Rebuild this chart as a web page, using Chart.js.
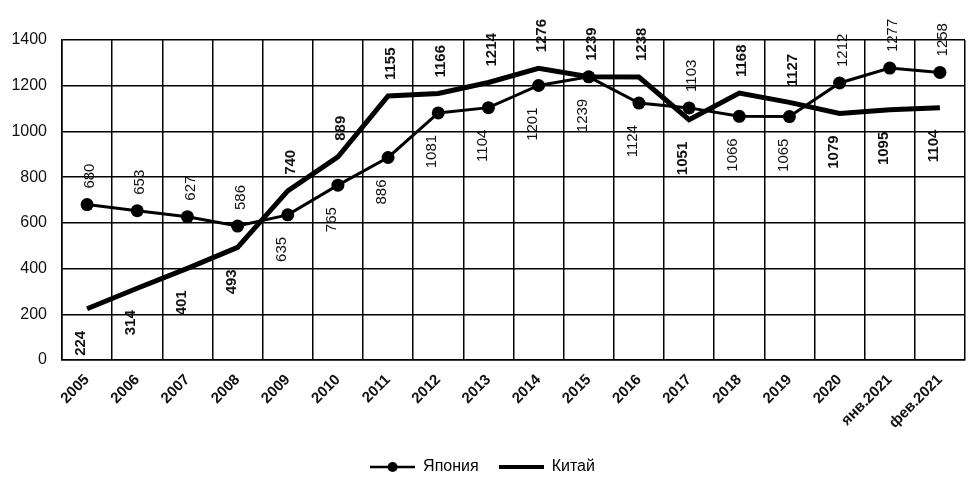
<!DOCTYPE html>
<html>
<head>
<meta charset="utf-8">
<script src="https://cdn.jsdelivr.net/npm/chart.js@4.4.1/dist/chart.umd.min.js"></script>
<style>
  html, body { margin: 0; padding: 0; background: #fff; }
  #wrap { width: 972px; height: 477px; position: relative; }
</style>
</head>
<body>
<div id="wrap"><canvas id="mainChart"></canvas></div>
<script>
// Data
const categories = ["2005", "2006", "2007", "2008", "2009", "2010", "2011", "2012", "2013",
  "2014", "2015", "2016", "2017", "2018", "2019", "2020", "янв.2021", "фев.2021"];
const japanValues = [680, 653, 627, 586, 635, 765, 886, 1081, 1104, 1201, 1239, 1124, 1103, 1066, 1065, 1212, 1277, 1258];
const chinaValues = [224, 314, 401, 493, 740, 889, 1155, 1166, 1214, 1276, 1239, 1238, 1051, 1168, 1127, 1079, 1095, 1104];
const yTicks = [0, 200, 400, 600, 800, 1000, 1200, 1400];

// where each value label sits: 1 = above the point, -1 = below
const japanLabelSide = [1, 1, 1, 1, -1, -1, -1, -1, -1, -1, -1, -1, 1, -1, -1, 1, 1, 1];
const chinaLabelSide = [-1, -1, -1, -1, 1, 1, 1, 1, 1, 1, 1, 1, -1, 1, 1, -1, -1, -1];

const FONT = "'Liberation Sans', Arial, sans-serif";

// legend marker images (line with dot, thick line)
function makeMarker(withDot, lw) {
  const c = document.createElement("canvas");
  c.width = 45; c.height = 14;
  const g = c.getContext("2d");
  g.strokeStyle = "#000";
  g.lineWidth = lw;
  g.beginPath(); g.moveTo(0, 7); g.lineTo(45, 7); g.stroke();
  if (withDot) {
    g.fillStyle = "#000";
    g.beginPath(); g.arc(22.5, 7, 5, 0, Math.PI * 2); g.fill();
  }
  return c;
}
const japanMarker = makeMarker(true, 2.5);
const chinaMarker = makeMarker(false, 4);

// vertical value labels drawn from the points the library placed
const valueLabels = {
  id: "valueLabels",
  afterDatasetsDraw(chart) {
    const ctx = chart.ctx;
    const sets = [
      { idx: 0, vals: japanValues, side: japanLabelSide, bold: false },
      { idx: 1, vals: chinaValues, side: chinaLabelSide, bold: true }
    ];
    ctx.save();
    ctx.fillStyle = "#111";
    ctx.textBaseline = "middle";
    sets.forEach(s => {
      const meta = chart.getDatasetMeta(s.idx);
      ctx.font = (s.bold ? "bold " : "") + "15px " + FONT;
      meta.data.forEach((pt, i) => {
        const txt = String(s.vals[i]);
        const w = ctx.measureText(txt).width;
        const up = s.side[i] > 0;
        const gap = up ? 16 : 22;
        const cy = up ? pt.y - gap - w / 2 : pt.y + gap + w / 2;
        const cx = pt.x + (up ? 3 : -6);
        ctx.save();
        ctx.translate(cx, cy);
        ctx.rotate(-Math.PI / 2);
        ctx.textAlign = "center";
        ctx.fillText(txt, 0, 0);
        ctx.restore();
      });
    });
    ctx.restore();
  }
};

let chart;

function initChart() {
  const ctx = document.getElementById("mainChart").getContext("2d");
  chart = new Chart(ctx, {
    type: "line",
    data: {
      labels: categories,
      datasets: [
        {
          label: "Япония",
          data: japanValues,
          borderColor: "#000",
          backgroundColor: "#000",
          borderWidth: 3,
          pointRadius: 6.5,
          pointHoverRadius: 6.5,
          pointBackgroundColor: "#000",
          pointBorderWidth: 0,
          pointStyle: "circle",
          tension: 0
        },
        {
          label: "Китай",
          data: chinaValues,
          borderColor: "#000",
          backgroundColor: "#000",
          borderWidth: 5,
          pointRadius: 0,
          tension: 0
        }
      ]
    },
    options: {
      responsive: true,
      maintainAspectRatio: false,
      animation: false,
      layout: { padding: { top: 40, right: 7, left: 0, bottom: -8 } },
      scales: {
        x: {
          offset: true,
          grid: { color: "#000", lineWidth: 1.5, offset: true, drawTicks: false },
          border: { color: "#000", width: 1.5 },
          ticks: {
            color: "#111",
            font: { family: FONT, size: 15, weight: "bold" },
            minRotation: 45,
            maxRotation: 45,
            padding: 11,
            autoSkip: false
          },
          afterFit(scale) { scale.height = 79; }
        },
        y: {
          min: 0,
          max: 1400,
          afterBuildTicks(scale) { scale.ticks = yTicks.map(v => ({ value: v })); },
          grid: { color: "#000", lineWidth: 1.5, drawTicks: false },
          border: { color: "#000", width: 1.5 },
          ticks: {
            color: "#111",
            font: { family: FONT, size: 16 },
            padding: 15,
            callback: v => String(v)
          },
          afterFit(scale) { scale.width = 62; }
        }
      },
      plugins: {
        legend: {
          position: "bottom",
          labels: {
            usePointStyle: true,
            pointStyleWidth: 45,
            color: "#111",
            font: { family: FONT, size: 16 },
            padding: 20,
            generateLabels(ch) {
              return ch.data.datasets.map((d, i) => ({
                text: d.label,
                pointStyle: i === 0 ? japanMarker : chinaMarker,
                fillStyle: "#000",
                strokeStyle: "#000",
                lineWidth: 0,
                hidden: false,
                datasetIndex: i
              }));
            }
          }
        },
        tooltip: { enabled: false }
      }
    },
    plugins: [valueLabels]
  });
}

document.addEventListener("DOMContentLoaded", initChart);
</script>
</body>
</html>
